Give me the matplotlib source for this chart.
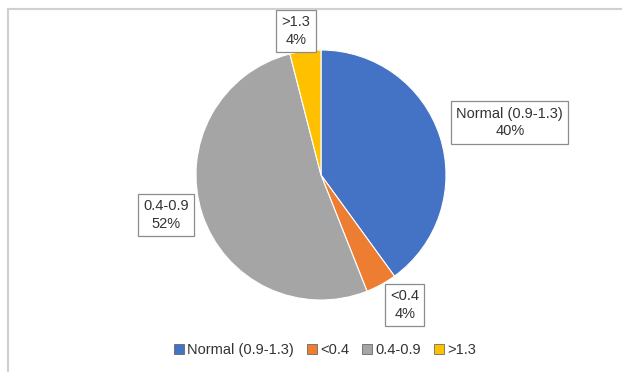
from matplotlib import pyplot as plt
from matplotlib.patches import Patch
import numpy as np

categories = ['Normal (0.9-1.3)', '<0.4', '0.4-0.9', '>1.3']
shares = [40, 4, 52, 4]
colors = ['#4472C4', '#ED7D31', '#A5A5A5', '#FFC000']

# label box centres in pie units (radius = 1)
label_pos = [(1.51, 0.42), (0.67, -1.04), (-1.24, -0.32), (-0.2, 1.15)]

plt.rcParams['font.family'] = ['Liberation Sans', 'DejaVu Sans']

W, H = 622, 372
fig = plt.figure(figsize=(W / 100, H / 100), dpi=100)

# thin frame along the top and left edge
fig.add_artist(plt.Line2D([8 / W, 1], [1 - 9 / H, 1 - 9 / H], color='#d0d0d0', lw=1.5))
fig.add_artist(plt.Line2D([8 / W, 8 / W], [0, 1 - 9 / H], color='#d0d0d0', lw=1.5))

cx, cy, r = 321, 175, 125
ax = fig.add_axes([(cx - r) / W, (H - cy - r) / H, 2 * r / W, 2 * r / H])
wedges, _ = ax.pie(shares, colors=colors, startangle=90, counterclock=False,
                   wedgeprops=dict(edgecolor='white', linewidth=0.8))
ax.set_xlim(-1, 1)
ax.set_ylim(-1, 1)
ax.set_aspect('equal')
ax.set_clip_on(False)

for name, val, (lx, ly) in zip(categories, shares, label_pos):
    ax.text(lx, ly, '{}\n{}%'.format(name, val), ha='center', va='center',
            fontsize=10.5, color='#333333', linespacing=1.35, clip_on=False,
            bbox=dict(boxstyle='square,pad=0.35', fc='white', ec='#8c8c8c', lw=0.9))

handles = [Patch(facecolor=c, edgecolor='#555555', linewidth=0.5) for c in colors]
fig.legend(handles, categories, loc='center', bbox_to_anchor=(0.523, 1 - 350 / H),
           ncol=4, frameon=False, fontsize=10.5, handlelength=0.65, handleheight=0.65,
           handletextpad=0.25, columnspacing=0.9, labelcolor='#333333')

plt.savefig('out.png', dpi=100)
